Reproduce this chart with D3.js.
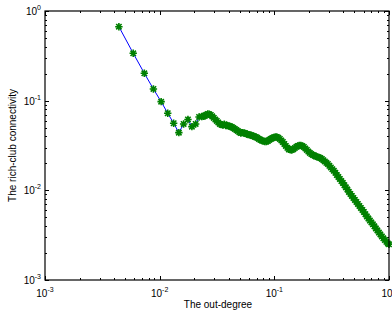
<!DOCTYPE html>
<meta charset="utf-8">
<head>
    <title>Rich-club connectivity</title>
    <script src="https://cdn.jsdelivr.net/npm/d3@7"></script>
    <style>
    body { margin: 0; background: #fff; }
    text { font-family: "Liberation Sans", Arial, sans-serif; fill: #000; }
    </style>
</head>
<body>
<svg id="chart"></svg>
<script>
    // out-degree (normalised) and rich-club connectivity
    var outDegree = [
        0.00441, 0.00588, 0.00735, 0.00882, 0.0103, 0.01176, 0.01324, 0.0147,
        0.01618, 0.01765, 0.0191, 0.0206, 0.02206,
        0.02331, 0.02402, 0.02474, 0.0255, 0.02628, 0.02708, 0.02791, 0.02876,
        0.02966, 0.03057, 0.0315, 0.03246, 0.03346, 0.03448, 0.03553, 0.03662,
        0.03774, 0.0389, 0.04009, 0.04132, 0.04257, 0.04387, 0.04522, 0.0466,
        0.04803, 0.0495, 0.05101, 0.05257, 0.05418, 0.05584, 0.05754, 0.0593,
        0.06111, 0.06298, 0.06492, 0.0669, 0.06894, 0.07105, 0.07322, 0.07546,
        0.07778, 0.08016, 0.08261, 0.08514, 0.08774, 0.09042, 0.09322, 0.09607,
        0.09899, 0.102, 0.1051, 0.1083, 0.1117, 0.1151, 0.1186, 0.1222,
        0.126, 0.1299, 0.1338, 0.1379, 0.1421, 0.1464, 0.151, 0.1556,
        0.1603, 0.1652, 0.1703, 0.1755, 0.1809, 0.1864, 0.1921, 0.198,
        0.2041, 0.2103, 0.2168, 0.2234, 0.2302, 0.2372, 0.2445, 0.252,
        0.2597, 0.2676, 0.2758, 0.2842, 0.2929, 0.3019, 0.3111, 0.3206,
        0.3305, 0.3406, 0.351, 0.3617, 0.3728, 0.3842, 0.396, 0.4081,
        0.4206, 0.4335, 0.4467, 0.4604, 0.4745, 0.489, 0.504, 0.5194,
        0.5353, 0.5517, 0.5685, 0.5859, 0.6039, 0.6224, 0.6414, 0.661,
        0.6812, 0.702, 0.7236, 0.7457, 0.7685, 0.792, 0.8163, 0.8413,
        0.867, 0.8935, 0.9209, 0.949, 0.978, 1.0
    ];
    var richClub = [
        0.668, 0.3376, 0.202, 0.135, 0.0975, 0.0724, 0.056, 0.044,
        0.055, 0.0617, 0.0513, 0.055, 0.0658,
        0.0667, 0.067, 0.0675, 0.0695, 0.0711, 0.0705, 0.0693, 0.0668,
        0.0641, 0.0616, 0.0594, 0.0571, 0.055, 0.054, 0.0536, 0.0545,
        0.0529, 0.0528, 0.0522, 0.0516, 0.0509, 0.0497, 0.0484, 0.0472,
        0.046, 0.0446, 0.0436, 0.044, 0.0436, 0.0432, 0.0425, 0.0418,
        0.0415, 0.0411, 0.0404, 0.0398, 0.0394, 0.0385, 0.0374, 0.0366,
        0.036, 0.0354, 0.0351, 0.035, 0.0355, 0.0366, 0.0374, 0.0384,
        0.0389, 0.0393, 0.0394, 0.0386, 0.0374, 0.036, 0.0346, 0.0329,
        0.0313, 0.0298, 0.0286, 0.0283, 0.0282, 0.0288, 0.0297, 0.0306,
        0.0313, 0.0316, 0.0317, 0.0312, 0.0305, 0.0293, 0.0282, 0.0271,
        0.0261, 0.0254, 0.0248, 0.0244, 0.0239, 0.0236, 0.0233, 0.0229,
        0.0224, 0.0217, 0.021, 0.0203, 0.0197, 0.0188, 0.018, 0.0172,
        0.0165, 0.0157, 0.0148, 0.0141, 0.0134, 0.0127, 0.0121, 0.0114,
        0.0108, 0.0102, 0.0096, 0.00912, 0.00866, 0.00823, 0.00782, 0.00742,
        0.00705, 0.0067, 0.00637, 0.00605, 0.00574, 0.00542, 0.00512, 0.00485,
        0.0046, 0.00438, 0.00418, 0.00397, 0.00376, 0.00357, 0.00338, 0.00322,
        0.00306, 0.00292, 0.00279, 0.00267, 0.00256, 0.0025
    ];
    var decades = [0.001, 0.01, 0.1, 1];
    var decadeExp = ["-3", "-2", "-1", "0"];

    var W = 392, H = 310;
    var margin = { top: 11, right: 3, bottom: 30, left: 45 };

    var svg = d3.select("#chart").attr("width", W).attr("height", H);

    var x = d3.scaleLog().domain([0.001, 1]).range([margin.left, W - margin.right]);
    var y = d3.scaleLog().domain([0.001, 1]).range([H - margin.bottom, margin.top]);

    var n = Math.min(outDegree.length, richClub.length);
    var data = d3.range(n).map(function(i) { return { x: outDegree[i], y: richClub[i] }; });

    // minor ticks 2..9 in each decade
    var minor = [];
    decades.slice(0, 3).forEach(function(d) {
        for (var k = 2; k <= 9; k++) minor.push(d * k);
    });

    var x0 = x.range()[0], x1 = x.range()[1], y0 = y.range()[0], y1 = y.range()[1];
    var ticks = svg.append("g").attr("stroke", "#000").attr("stroke-width", 1);

    function tickLines(vals, len) {
        vals.forEach(function(v) {
            var px = Math.round(x(v)) + 0.5, py = Math.round(y(v)) + 0.5;
            ticks.append("line").attr("x1", px).attr("x2", px).attr("y1", y0).attr("y2", y0 - len);
            ticks.append("line").attr("x1", px).attr("x2", px).attr("y1", y1).attr("y2", y1 + len);
            ticks.append("line").attr("x1", x0).attr("x2", x0 + len).attr("y1", py).attr("y2", py);
            ticks.append("line").attr("x1", x1).attr("x2", x1 - len).attr("y1", py).attr("y2", py);
        });
    }
    tickLines(decades, 4);
    tickLines(minor, 2);

    // blue line
    svg.append("path")
        .datum(data)
        .attr("fill", "none")
        .attr("stroke", "#0000ff")
        .attr("stroke-width", 1)
        .attr("d", d3.line().x(function(d) { return x(d.x); }).y(function(d) { return y(d.y); }));

    // green asterisk markers
    var r = 3.7, rd = 2.7;
    var star = "M0," + (-r) + "V" + r + "M" + (-r) + ",0H" + r +
        "M" + (-rd) + "," + (-rd) + "L" + rd + "," + rd +
        "M" + (-rd) + "," + rd + "L" + rd + "," + (-rd);
    svg.append("g").selectAll("path")
        .data(data)
        .enter().append("path")
        .attr("transform", function(d) { return "translate(" + x(d.x) + "," + y(d.y) + ")"; })
        .attr("d", star)
        .attr("fill", "none")
        .attr("stroke", "#008000")
        .attr("stroke-width", 1.6);

    // box
    svg.append("rect")
        .attr("x", x0).attr("y", y1)
        .attr("width", x1 - x0).attr("height", y0 - y1)
        .attr("fill", "none").attr("stroke", "#000").attr("stroke-width", 1.2);

    // tick labels with superscripts
    decades.forEach(function(v, i) {
        var t = svg.append("text")
            .attr("x", x(v)).attr("y", y0 + 17)
            .attr("text-anchor", "middle")
            .style("font-size", "10px");
        t.append("tspan").text("10");
        t.append("tspan").attr("dy", -5).style("font-size", "7px").text(decadeExp[i]);

        var t2 = svg.append("text")
            .attr("x", x0 - 4).attr("y", y(v) + 4)
            .attr("text-anchor", "end")
            .style("font-size", "10px");
        t2.append("tspan").text("10");
        t2.append("tspan").attr("dy", -5).style("font-size", "7px").text(decadeExp[i]);
    });

    svg.append("text")
        .attr("x", (x0 + x1) / 2 + 1).attr("y", H - 2)
        .attr("text-anchor", "middle")
        .style("font-size", "10px")
        .text("The out-degree");

    svg.append("text")
        .attr("transform", "translate(16," + ((y0 + y1) / 2) + ") rotate(-90)")
        .attr("text-anchor", "middle")
        .style("font-size", "10px")
        .text("The rich-club connectivity");
</script>
</body>
</html>
